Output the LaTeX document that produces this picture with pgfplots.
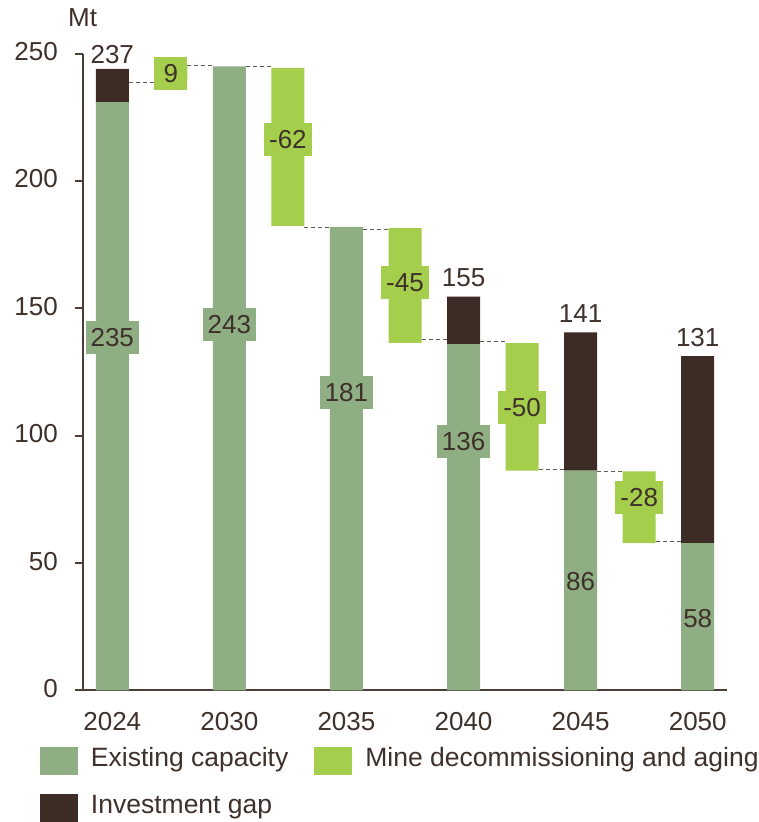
\documentclass[border=0pt]{standalone}
\usepackage{pgfplots}
\pgfplotsset{compat=1.18}
\usepackage{fontspec}
\setmainfont{Liberation Sans}
\definecolor{exist}{HTML}{8FAE84}
\definecolor{decom}{HTML}{A5CE4C}
\definecolor{gapc}{HTML}{3C2C25}
\definecolor{txt}{HTML}{3E302A}
\definecolor{axc}{HTML}{4B3D37}
\newcommand{\bigf}{\fontsize{26}{31}\selectfont}
\newcommand{\legf}{\fontsize{26.5}{31}\selectfont}

\begin{document}
\begin{tikzpicture}
\begin{axis}[
  name=main,
  scale only axis, width=644pt, height=636.7pt,
  xmin=-0.5, xmax=10.5, ymin=0, ymax=250,
  ybar stacked, bar width=33pt,
  axis lines=left, axis line style={axc, line width=2pt, -},
  xtick={0,2,4,6,8,10}, xticklabels={2024,2030,2035,2040,2045,2050},
  ytick={0,50,100,150,200,250},
  tick align=outside, major tick length=8pt,
  ytick style={axc, line width=2pt},
  xtick style={draw=none},
  tick label style={font=\bigf, text=txt},
  yticklabel style={inner sep=0pt, xshift=-17pt, yshift=2pt},
  xticklabel style={inner sep=0pt, yshift=-14pt},
  /pgf/number format/assume math mode=true,
  clip=false,
  legend columns=2,
  legend cell align=left,
  legend style={at={(axis description cs:-0.0668,-0.0884)}, anchor=north west,
    draw=none, fill=none, inner sep=0pt, outer sep=0pt, font=\legf, text=txt,
    nodes={inner sep=0pt}, row sep=19.5pt,
    /tikz/every odd column/.append style={column sep=13pt},
    /tikz/every even column/.append style={column sep=26pt}},
  legend image code/.code={\fill[#1] (0pt,-17pt) rectangle (38pt,11pt);},
]
% existing capacity
\addplot[fill=exist, draw=none] coordinates {(0,231) (1,0) (2,245) (3,0) (4,182) (5,0) (6,136) (7,0) (8,86.3) (9,0) (10,57.8)};
\addlegendentry{Existing capacity}
% invisible base for floating bars
\addplot[fill=none, draw=none, forget plot] coordinates {(0,0) (1,239) (2,0) (3,182.4) (4,0) (5,136.5) (6,0) (7,86.3) (8,0) (9,57.8) (10,0)};
% decommissioning
\addplot[fill=decom, draw=none] coordinates {(0,0) (1,6) (2,0) (3,62) (4,0) (5,45) (6,0) (7,50.1) (8,0) (9,28.2) (10,0)};
\addlegendentry{Mine decommissioning and aging}
% investment gap
\addplot[fill=gapc, draw=none] coordinates {(0,13) (1,0) (2,0) (3,0) (4,0) (5,0) (6,18.6) (7,0) (8,54.3) (9,0) (10,73.5)};
\addlegendentry{Investment gap}
\end{axis}

\begin{axis}[
  scale only axis, width=644pt, height=636.7pt,
  xmin=-0.5, xmax=10.5, ymin=0, ymax=250,
  hide axis, clip=false,
]
\addplot[axc!85, line width=1pt, dash pattern=on 4pt off 3pt] coordinates {(0.282,238.8) (0.718,238.8)};
\addplot[axc!85, line width=1pt, dash pattern=on 4pt off 3pt] coordinates {(1.282,245.3) (1.718,245.3)};
\addplot[axc!85, line width=1pt, dash pattern=on 4pt off 3pt] coordinates {(2.282,245) (2.718,245)};
\addplot[axc!85, line width=1pt, dash pattern=on 4pt off 3pt] coordinates {(3.282,181.8) (3.718,181.8)};
\addplot[axc!85, line width=1pt, dash pattern=on 4pt off 3pt] coordinates {(4.282,181) (4.718,181)};
\addplot[axc!85, line width=1pt, dash pattern=on 4pt off 3pt] coordinates {(5.282,137.8) (5.718,137.8)};
\addplot[axc!85, line width=1pt, dash pattern=on 4pt off 3pt] coordinates {(6.282,137) (6.718,137)};
\addplot[axc!85, line width=1pt, dash pattern=on 4pt off 3pt] coordinates {(7.282,86.8) (7.718,86.8)};
\addplot[axc!85, line width=1pt, dash pattern=on 4pt off 3pt] coordinates {(8.282,85.9) (8.718,85.9)};
\addplot[axc!85, line width=1pt, dash pattern=on 4pt off 3pt] coordinates {(9.282,58.4) (9.718,58.4)};

\tikzset{lab/.style={font=\bigf, text=txt},
         elab/.style={lab, fill=exist, inner xsep=5pt, inner ysep=0pt, minimum height=33pt, minimum width=33pt},
         dlab/.style={lab, fill=decom, inner xsep=5pt, inner ysep=0pt, minimum height=33pt, minimum width=33pt},
         tlab/.style={lab, inner sep=0pt, anchor=base}}
% value labels on existing capacity
\node[elab] at (axis cs:0,138.6) {235};
\node[elab] at (axis cs:2,143.7) {243};
\node[elab] at (axis cs:4,117) {181};
\node[elab] at (axis cs:6,97.8) {136};
\node[lab, inner sep=0pt] at (axis cs:8,42.7) {86};
\node[lab, inner sep=0pt] at (axis cs:10,28.3) {58};
% change labels
\node[dlab] at (axis cs:1,242.3) {9};
\node[dlab] at (axis cs:3,216.4) {-62};
\node[dlab] at (axis cs:5,160.2) {-45};
\node[dlab] at (axis cs:7,111.1) {-50};
\node[dlab] at (axis cs:9,75.8) {-28};
% totals
\node[tlab] at (axis cs:0,246.2) {237};
\node[tlab] at (axis cs:6,158.5) {155};
\node[tlab] at (axis cs:8,144.4) {141};
\node[tlab] at (axis cs:10,134.9) {131};
% unit
\node[lab, inner sep=0pt, anchor=base west, xshift=-15pt, yshift=27pt] at (axis cs:-0.5,250) {Mt};
\end{axis}
\pgfresetboundingbox
\useasboundingbox (-83pt,-131.6pt) rectangle (675pt,690.4pt);
\end{tikzpicture}
\end{document}
